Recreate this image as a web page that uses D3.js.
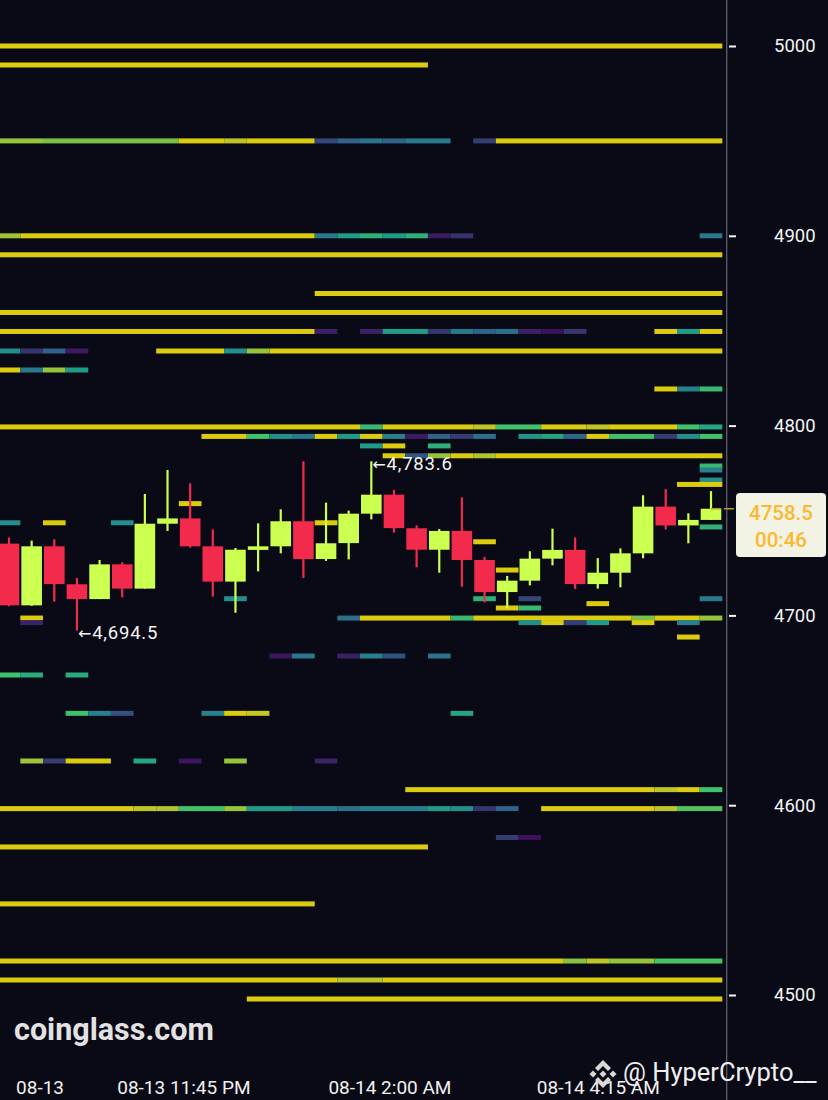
<!DOCTYPE html>
<html>
<head>
<meta charset="utf-8">
<style>
  html, body { margin: 0; padding: 0; background: #0a0a16; }
  svg { display: block; }
  text { font-family: Roboto, sans-serif; }
</style>
<script src="https://cdn.jsdelivr.net/npm/d3@7"></script>
</head>
<body>
<svg id="chart"></svg>
<script>
const width = 828;
const height = 1100;

// candles, 15 min each
const opens = [4737.8, 4705.3, 4736.4, 4716.4, 4708.6, 4726.9, 4714.1, 4748.3, 4751.1, 4736.4, 4717.8, 4734.5, 4736.4, 4749.6, 4729.7, 4738.1,
  4753.6, 4763.6, 4745.9, 4734.6, 4744.5, 4729.2, 4712.3, 4718.3, 4729.9, 4734.5, 4716.5, 4722.5, 4732.7, 4757.3, 4747.4, 4750.3];
const highs = [4741.0, 4739.4, 4740.1, 4719.7, 4729.2, 4728.0, 4764.0, 4776.6, 4769.6, 4745.3, 4735.5, 4748.5, 4755.9, 4781.2, 4759.4, 4755.2,
  4781.2, 4766.1, 4747.4, 4745.5, 4762.2, 4730.8, 4720.8, 4733.8, 4745.7, 4741.1, 4730.2, 4735.3, 4763.3, 4766.6, 4753.8, 4765.5];
const lows = [4704.8, 4705.0, 4707.2, 4692.0, 4708.6, 4709.5, 4714.1, 4744.5, 4735.7, 4709.9, 4701.4, 4723.2, 4732.7, 4719.7, 4728.7, 4729.5,
  4750.6, 4743.6, 4725.3, 4722.5, 4715.1, 4706.9, 4703.7, 4715.8, 4726.4, 4713.9, 4714.1, 4714.8, 4730.1, 4745.3, 4738.0, 4750.3];
const closes = [4705.3, 4736.4, 4716.5, 4708.6, 4726.9, 4714.1, 4748.3, 4751.1, 4736.4, 4717.8, 4734.6, 4736.4, 4749.6, 4729.7, 4738.0, 4753.6,
  4763.6, 4746.0, 4734.6, 4744.5, 4729.2, 4712.3, 4718.3, 4729.9, 4734.5, 4716.5, 4722.5, 4732.7, 4757.3, 4747.4, 4750.3, 4756.2];

// liquidation levels: price of each strip and its runs [first col, last col + 1, intensity]
const levelPrices = [5000, 4990, 4950, 4900, 4890, 4869.6, 4859.6, 4849.6, 4839.3, 4829.3, 4819.3, 4799.3, 4794.3, 4789.3, 4784.1,
  4778.7, 4776.6, 4771.3, 4769, 4758.9, 4748.8, 4746.6, 4738.8, 4723.9, 4708.8, 4706.2, 4703.9, 4698.6, 4696.2, 4688.6,
  4678.6, 4668.6, 4648.4, 4623.3, 4608.2, 4598.2, 4583, 4578, 4548, 4517.9, 4507.9, 4497.9];
const levelRuns = [
  [[0, 32, 1]],
  [[0, 19, 1]],
  [[0, 2, .85], [2, 8, .8], [8, 10, 1], [10, 11, .93], [11, 14, 1], [14, 15, .25], [15, 16, .33], [16, 17, .4], [17, 18, .33], [18, 20, .42], [21, 22, .22], [22, 32, 1]],
  [[0, 1, .87], [1, 14, 1], [14, 15, .42], [15, 16, .55], [16, 17, .62], [17, 18, .55], [18, 19, .62], [19, 20, .08], [20, 21, .18], [31, 32, .42]],
  [[0, 32, 1]],
  [[14, 32, 1]],
  [[0, 32, 1]],
  [[0, 14, 1], [14, 15, .1], [16, 17, .1], [17, 19, .55], [19, 20, .2], [20, 21, .42], [21, 22, .33], [22, 23, .38], [23, 24, .1], [24, 25, .03], [25, 26, .2], [29, 30, 1], [30, 31, .55], [31, 32, 1]],
  [[0, 1, .5], [1, 2, .2], [2, 3, .33], [3, 4, .08], [7, 10, 1], [10, 11, .5], [11, 12, .85], [12, 32, 1]],
  [[0, 1, 1], [1, 2, .42], [2, 3, .85], [3, 4, .55]],
  [[29, 30, 1], [30, 31, .45], [31, 32, .65]],
  [[0, 16, 1], [16, 17, .65], [17, 21, 1], [21, 22, .93], [22, 24, .68], [24, 26, 1], [26, 27, .93], [27, 30, 1], [30, 31, .68], [31, 32, .58]],
  [[9, 11, 1], [11, 12, .68], [12, 13, .5], [13, 14, .42], [14, 15, 1], [15, 16, .55], [16, 17, 1], [17, 18, .45], [18, 19, .08], [19, 20, .33], [20, 21, .22], [21, 22, .38], [23, 24, .52], [24, 25, .58], [25, 26, .35], [26, 27, 1], [27, 29, .68], [29, 30, .22], [30, 31, .5], [31, 32, .68]],
  [[16, 17, .55], [17, 18, 1], [19, 20, .62]],
  [[17, 18, 1], [18, 19, .3], [19, 20, .85], [20, 21, 1], [21, 22, .9], [22, 32, 1]],
  [[31, 32, .65]],
  [[31, 32, .45]],
  [[31, 32, .5]],
  [[30, 32, 1]],
  [[8, 9, 1]],
  [[0, 1, .5], [2, 3, 1], [5, 6, .5], [14, 15, 1]],
  [[31, 32, .62]],
  [[21, 22, 1]],
  [[22, 23, 1]],
  [[10, 11, .5], [21, 22, .62], [23, 24, .25], [31, 32, .42]],
  [[26, 27, 1]],
  [[22, 23, 1], [23, 24, .65]],
  [[1, 2, 1], [15, 16, .38], [16, 20, 1], [20, 21, .65], [21, 28, 1], [28, 29, .8], [29, 31, 1], [31, 32, .85]],
  [[1, 2, .12], [23, 24, .5], [24, 25, 1], [25, 26, .22], [26, 27, .55], [28, 29, 1], [30, 31, .45]],
  [[30, 31, 1]],
  [[12, 13, .05], [13, 14, .42], [15, 16, .1], [16, 17, .45], [17, 18, .28], [19, 20, .4]],
  [[0, 1, .68], [1, 2, .6], [3, 4, .6]],
  [[3, 4, .68], [4, 5, .45], [5, 6, .28], [9, 10, .45], [10, 11, 1], [11, 12, .95], [20, 21, .58]],
  [[1, 2, .87], [2, 3, .22], [3, 5, 1], [6, 7, .58], [8, 9, .05], [10, 11, .85], [14, 15, .12]],
  [[18, 29, 1], [29, 30, .93], [30, 31, 1], [31, 32, .68]],
  [[0, 6, 1], [6, 7, .93], [7, 8, .9], [8, 10, .68], [10, 11, .85], [11, 13, .55], [13, 15, .45], [15, 16, .38], [16, 19, .45], [19, 20, .55], [20, 21, .5], [21, 22, .2], [22, 23, .33], [24, 29, 1], [29, 30, .93], [30, 32, .72]],
  [[22, 23, .22], [23, 24, .03]],
  [[0, 19, 1]],
  [[0, 14, 1]],
  [[0, 25, 1], [25, 26, .82], [26, 27, .93], [27, 29, .85], [29, 32, .7]],
  [[0, 15, 1], [15, 17, .93], [17, 32, 1]],
  [[11, 32, 1]]
];

const priceTicks = [5000, 4900, 4800, 4700, 4600, 4500];
const timeTickCols = [1.35, 7.7, 16.8, 26];
const timeTickLabels = ['08-13', '08-13 11:45 PM', '08-14 2:00 AM', '08-14 4:15 AM'];

const lowNote = { col: 3, price: 4692.0, label: '4,694.5' };
const highNote = { col: 16, price: 4781.2, label: '4,783.6' };
const lastPrice = '4758.5';
const countdown = '00:46';

const xScale = d3.scaleLinear().domain([0, 31]).range([9, 711]);
const yScale = d3.scaleLinear().domain([5000, 4500]).range([46, 995]);
const stripColor = d3.scaleLinear()
  .domain([0, .2, .33, .45, .55, .68, .8, .9, 1])
  .range(['#3e0a58', '#36366f', '#30628a', '#27808c', '#1f9c88', '#3fc26a', '#7ac246', '#b0c430', '#dccc10']);

const bodyWidth = 20.6;
const green = '#cbff50';
const red = '#f22a4c';

const canvas = d3.select('#chart').attr('width', width).attr('height', height);
canvas.append('rect').attr('width', width).attr('height', height).attr('fill', '#0a0a16');

const drawStrips = () => {
  const rows = canvas.append('g').attr('id', 'strips')
    .selectAll('g')
    .data(levelPrices)
    .enter()
    .append('g');

  rows.selectAll('rect')
    .data((d, i) => levelRuns[i].map(r => ({ price: d, from: r[0], to: r[1], t: r[2] })))
    .enter()
    .append('rect')
    .attr('x', d => xScale(d.from - 0.5))
    .attr('y', d => yScale(d.price) - 2.5)
    .attr('width', d => xScale(d.to - 0.5) - xScale(d.from - 0.5))
    .attr('height', 5)
    .attr('fill', d => stripColor(d.t));
}

const drawCandles = () => {
  const candle = canvas.append('g').attr('id', 'candles')
    .selectAll('g')
    .data(opens)
    .enter()
    .append('g')
    .attr('fill', (d, i) => closes[i] >= d ? green : red)
    .attr('stroke', (d, i) => closes[i] >= d ? green : red);

  candle.append('line')
    .attr('x1', (d, i) => xScale(i))
    .attr('x2', (d, i) => xScale(i))
    .attr('y1', (d, i) => yScale(highs[i]))
    .attr('y2', (d, i) => yScale(lows[i]))
    .attr('stroke-width', 2.2);

  candle.append('rect')
    .attr('x', (d, i) => xScale(i) - bodyWidth / 2)
    .attr('y', (d, i) => yScale(Math.max(d, closes[i])))
    .attr('width', bodyWidth)
    .attr('height', (d, i) => Math.abs(yScale(d) - yScale(closes[i])))
    .attr('stroke', 'none');
}

const drawNotes = () => {
  const note = canvas.selectAll('.note')
    .data([lowNote, highNote])
    .enter()
    .append('text')
    .attr('class', 'note')
    .attr('x', d => xScale(d.col) + 1)
    .attr('y', d => yScale(d.price) + 8.5)
    .attr('fill', '#f4f4f4')
    .attr('font-size', 18.5)
    .attr('letter-spacing', 0.8);

  note.append('tspan')
    .attr('font-family', 'DejaVu Sans')
    .attr('font-size', 16)
    .text('←');
  note.append('tspan').text(d => d.label);
}

const drawAxes = () => {
  canvas.append('line')
    .attr('x1', 726.7).attr('x2', 726.7)
    .attr('y1', 0).attr('y2', height)
    .attr('stroke', '#5f5f69')
    .attr('stroke-width', 1.3);

  const yAxis = d3.axisRight(yScale)
    .tickValues(priceTicks)
    .tickSize(7)
    .tickPadding(38)
    .tickFormat(d3.format('d'));

  const yG = canvas.append('g')
    .attr('id', 'y-axis')
    .attr('transform', 'translate(729, 0)')
    .call(yAxis);
  yG.select('.domain').remove();
  yG.selectAll('.tick line').attr('stroke', '#f4f4f4').attr('stroke-width', 2);
  yG.selectAll('.tick text')
    .attr('fill', '#f4f4f4')
    .attr('font-family', 'Roboto, sans-serif')
    .attr('font-size', 18.5);

  const xAxis = d3.axisBottom(xScale)
    .tickValues(timeTickCols)
    .tickSize(0)
    .tickFormat((d, i) => timeTickLabels[i]);

  const xG = canvas.append('g')
    .attr('id', 'x-axis')
    .attr('transform', 'translate(0, 1077)')
    .call(xAxis);
  xG.select('.domain').remove();
  xG.selectAll('.tick text')
    .attr('fill', '#f0f0f0')
    .attr('font-family', 'Roboto, sans-serif')
    .attr('font-size', 19);
}

const drawPriceTag = () => {
  const lastY = yScale(closes[closes.length - 1]);

  canvas.append('line')
    .attr('x1', xScale(31)).attr('x2', 736)
    .attr('y1', lastY).attr('y2', lastY)
    .attr('stroke', '#b59b22')
    .attr('stroke-width', 1.5)
    .attr('stroke-dasharray', '10 3');

  canvas.append('rect')
    .attr('x', 736).attr('y', 493)
    .attr('width', 90).attr('height', 64)
    .attr('rx', 4)
    .attr('fill', '#f2f3e4');

  canvas.selectAll('.tag')
    .data([{ t: lastPrice, y: 519.5 }, { t: countdown, y: 547 }])
    .enter()
    .append('text')
    .attr('class', 'tag')
    .attr('x', 781)
    .attr('y', d => d.y)
    .attr('text-anchor', 'middle')
    .attr('fill', '#fdb82c')
    .attr('font-size', 20.5)
    .attr('font-weight', 500)
    .text(d => d.t);
}

const drawWatermarks = () => {
  canvas.append('text')
    .attr('x', 14).attr('y', 1040)
    .attr('fill', '#e2e2e2')
    .attr('font-size', 30.5)
    .attr('font-weight', 700)
    .text('coinglass.com');

  const logo = canvas.append('g')
    .attr('transform', 'translate(603, 1074)')
    .attr('fill', '#d8d8d8');
  logo.append('path').attr('d', 'M0,-14 L8,-6 L5,-3 L0,-8 L-5,-3 L-8,-6 Z');
  logo.append('path').attr('d', 'M0,14 L8,6 L5,3 L0,8 L-5,3 L-8,6 Z');
  logo.append('path').attr('d', 'M0,-3.5 L3.5,0 L0,3.5 L-3.5,0 Z');
  logo.append('path').attr('d', 'M-10,-3.5 L-6.5,0 L-10,3.5 L-13.5,0 Z');
  logo.append('path').attr('d', 'M10,-3.5 L13.5,0 L10,3.5 L6.5,0 Z');

  canvas.append('text')
    .attr('x', 623).attr('y', 1081)
    .attr('fill', '#eeeeee')
    .attr('font-size', 25.5)
    .text('@ HyperCrypto__');
}

drawStrips();
drawCandles();
drawNotes();
drawAxes();
drawPriceTag();
drawWatermarks();
</script>
</body>
</html>
